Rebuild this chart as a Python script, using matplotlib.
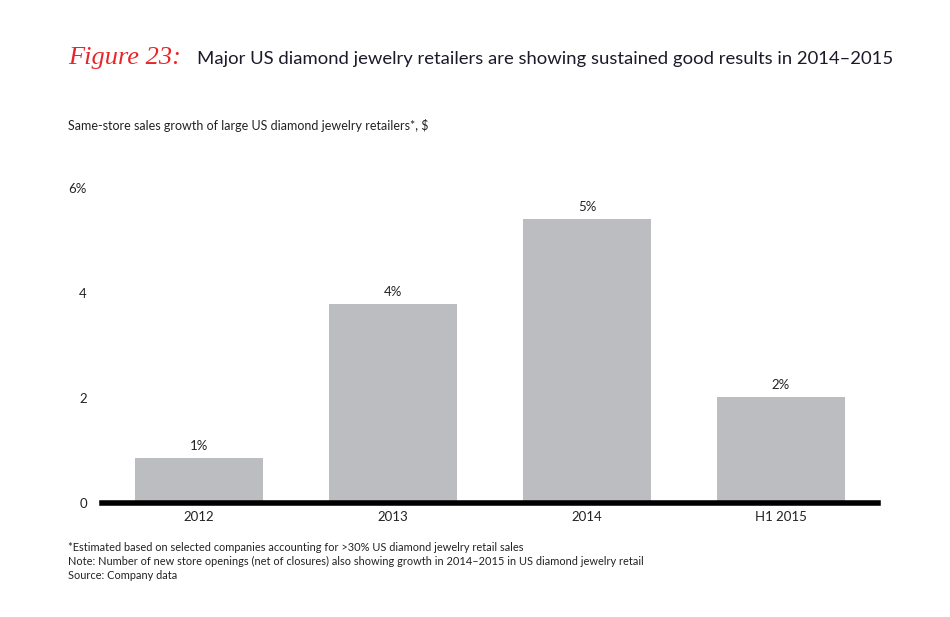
import matplotlib.pyplot as plt

categories = ["2012", "2013", "2014", "H1 2015"]
growth = [0.86, 3.79, 5.41, 2.02]
value_labels = ["1%", "4%", "5%", "2%"]
yticks = [0, 2, 4, 6]
ytick_labels = ["0", "2", "4", "6%"]

plt.rcParams['font.family'] = ['Lato', 'DejaVu Sans']

fig = plt.figure(figsize=(9.5, 6.17), dpi=100)
ax = fig.add_axes([0.1074, 0.1848, 0.8168, 0.5105])

x = range(len(categories))
ax.bar(x, growth, width=0.66, color="#bcbdc0", zorder=1)
for i, v in enumerate(growth):
    ax.annotate(value_labels[i], (i, v), xytext=(0, 4), textcoords="offset points",
                ha="center", va="bottom", fontsize=9.5, color="#222222")

ax.set_xlim(-0.5, 3.5)
ax.set_ylim(0, 6)
ax.set_xticks(list(x))
ax.set_xticklabels(categories, fontsize=9.5, color="#222222")
ax.set_yticks(yticks)
ax.set_yticklabels(ytick_labels, fontsize=9.5, color="#222222")
ax.tick_params(axis="both", length=0)
ax.tick_params(axis="y", pad=11)
ax.tick_params(axis="x", pad=6)
for s in ["top", "right", "left"]:
    ax.spines[s].set_visible(False)
ax.spines["bottom"].set_linewidth(4)
ax.spines["bottom"].set_color("black")
ax.spines["bottom"].set_zorder(3)

fig.text(0.072, 0.897, "Figure 23:", fontsize=19, color="#e8262a",
         family="Liberation Serif", style="italic", va="baseline")
fig.text(0.207, 0.897, "Major US diamond jewelry retailers are showing sustained good results in 2014\u20132015",
         fontsize=13.3, color="#1a1a2a", va="baseline")
fig.text(0.072, 0.79, "Same-store sales growth of large US diamond jewelry retailers*, $",
         fontsize=9, color="#222222", va="baseline")

notes = ["*Estimated based on selected companies accounting for >30% US diamond jewelry retail sales",
         "Note: Number of new store openings (net of closures) also showing growth in 2014\u20132015 in US diamond jewelry retail",
         "Source: Company data"]
for k, n in enumerate(notes):
    fig.text(0.072, 0.107 - k * 0.0225, n, fontsize=7.9, color="#222222", va="baseline")

fig.savefig("out.png", dpi=100)
